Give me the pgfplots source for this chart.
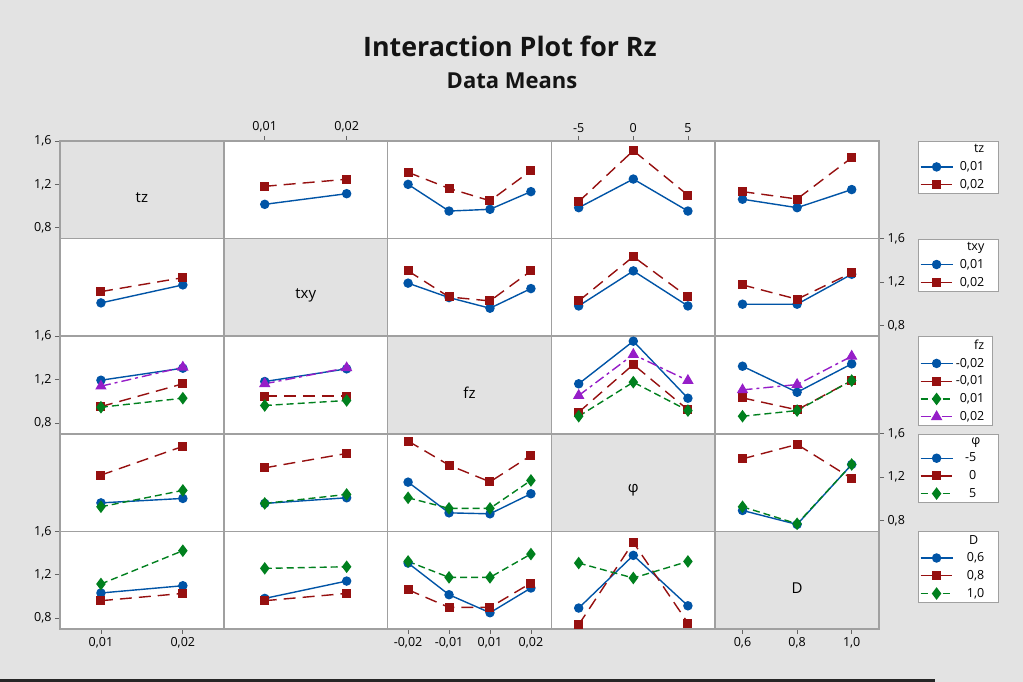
\documentclass[border=0pt]{standalone}
\usepackage{fontspec}
\setmainfont{Open Sans}
\usepackage{pgfplots}
\pgfplotsset{compat=1.18}
\definecolor{bg}{RGB}{227,227,227}
\definecolor{diagcol}{RGB}{226,226,226}
\definecolor{gridgray}{RGB}{160,160,160}
\definecolor{tickgray}{RGB}{100,100,100}
\definecolor{cBlue}{RGB}{0,84,166}
\definecolor{cRed}{RGB}{150,16,16}
\definecolor{cGreen}{RGB}{0,128,30}
\definecolor{cPurple}{RGB}{150,30,200}
\definecolor{titlecol}{RGB}{20,20,20}
\newcommand\tickfont{\fontsize{12.5}{14}\selectfont}
\newcommand\labfont{\fontsize{15}{18}\selectfont}
\newcommand\legfont{\fontsize{12.5}{14}\selectfont}
\pgfplotsset{
 sBlue/.style={color=cBlue, line width=1.4pt, solid, mark=*, mark size=4pt, mark options={solid}},
 sRed/.style={color=cRed, line width=1.4pt, dash pattern=on 12pt off 7pt, mark=square*, mark size=3.8pt, mark options={solid}},
 sGreen/.style={color=cGreen, line width=1.4pt, dash pattern=on 7pt off 4pt, mark=diamond*, mark size=5.2pt, mark options={solid}},
 sPurple/.style={color=cPurple, line width=1.4pt, dash pattern=on 10pt off 4pt on 3pt off 4pt, mark=triangle*, mark size=5.2pt, mark options={solid}},
 panel/.style={scale only axis, width=163.8pt, height=97.6pt, anchor=north west,
   ymin=0.7, ymax=1.6, xtick=\empty, ytick=\empty, clip=false,
   scaled x ticks=false, scaled y ticks=false,
   axis line style={draw=gridgray, line width=1.6pt},
   axis background/.style={fill=white},
   tick align=outside, major tick length=5pt,
   tick style={draw=tickgray, line width=0.8pt},
   ticklabel style={font=\tickfont, text=black}},
 diag/.style={panel, axis background/.style={fill=diagcol}},
 colA/.style={xmin=0.005, xmax=0.025},
 colF/.style={xmin=-0.5, xmax=3.5},
 colP/.style={xmin=-7.5, xmax=7.5},
 colD/.style={xmin=0.5, xmax=1.1},
 yleft/.style={ytick={0.8,1.2,1.6}, yticklabels={{0,8},{1,2},{1,6}}, ytick pos=left, yticklabel pos=left},
 yright/.style={ytick={0.8,1.2,1.6}, yticklabels={{0,8},{1,2},{1,6}}, ytick pos=right, yticklabel pos=right},
 leg/.style={legend style={at={(1,1)}, anchor=north west, xshift=38.7pt, draw=gridgray, fill=white,
   font=\legfont, inner xsep=2pt, inner ysep=1.5pt, row sep=3.2pt, column sep=3pt, cells={anchor=east}},
   legend image code/.code={\draw[mark repeat=2,mark phase=2] plot coordinates {(0pt,0pt) (16pt,0pt) (32pt,0pt)};}},
}
\newcommand\lt[1]{\makebox[26pt][r]{#1}\hspace*{10pt}}
\begin{document}
\begin{tikzpicture}
\fill[bg] (0pt,0pt) rectangle (1023pt,682pt);
\fill[black!85] (0pt,0pt) rectangle (935pt,2.5pt);
\node[font=\fontsize{26.8}{30}\selectfont\bfseries, text=titlecol] at (510pt,636pt) {Interaction Plot for Rz};
\node[font=\fontsize{22}{25}\selectfont\bfseries, text=titlecol] at (512pt,601pt) {Data Means};
% ---------------- Row 1 (tz) ----------------
\begin{axis}[diag, colA, yleft, at={(60pt,541pt)}]
\node[font=\labfont] at (rel axis cs:0.5,0.42) {tz};
\end{axis}
\begin{axis}[panel, colA, at={(223.8pt,541pt)}, xtick={0.01,0.02}, xticklabels={{0,01},{0,02}}, xtick pos=right, xticklabel pos=right]
\addplot[sBlue] coordinates {(0.01,1.016)(0.02,1.114)};
\addplot[sRed] coordinates {(0.01,1.182)(0.02,1.247)};
\end{axis}
\begin{axis}[panel, colF, at={(387.6pt,541pt)}]
\addplot[sBlue] coordinates {(0,1.200)(1,0.954)(2,0.970)(3,1.133)};
\addplot[sRed] coordinates {(0,1.311)(1,1.163)(2,1.049)(3,1.326)};
\end{axis}
\begin{axis}[panel, colP, at={(551.4pt,541pt)}, xtick={-5,0,5}, xticklabels={-5,0,5}, xtick pos=right, xticklabel pos=right]
\addplot[sBlue] coordinates {(-5,0.985)(0,1.249)(5,0.954)};
\addplot[sRed] coordinates {(-5,1.041)(0,1.511)(5,1.100)};
\end{axis}
\begin{axis}[panel, colD, leg, at={(715.2pt,541pt)}]
\addplot[sBlue, forget plot] coordinates {(0.6,1.063)(0.8,0.985)(1.0,1.152)};
\addplot[sRed, forget plot] coordinates {(0.6,1.133)(0.8,1.065)(1.0,1.446)};
\addlegendimage{empty legend}\addlegendentry{\lt{tz}}
\addlegendimage{sBlue}\addlegendentry{\lt{0,01}}
\addlegendimage{sRed}\addlegendentry{\lt{0,02}}
\end{axis}
% ---------------- Row 2 (txy) ----------------
\begin{axis}[panel, colA, at={(60pt,443.4pt)}]
\addplot[sBlue] coordinates {(0.01,1.007)(0.02,1.173)};
\addplot[sRed] coordinates {(0.01,1.111)(0.02,1.240)};
\end{axis}
\begin{axis}[diag, colA, at={(223.8pt,443.4pt)}]
\node[font=\labfont] at (rel axis cs:0.5,0.42) {txy};
\end{axis}
\begin{axis}[panel, colF, at={(387.6pt,443.4pt)}]
\addplot[sBlue] coordinates {(0,1.189)(1,1.056)(2,0.958)(3,1.139)};
\addplot[sRed] coordinates {(0,1.302)(1,1.062)(2,1.025)(3,1.302)};
\end{axis}
\begin{axis}[panel, colP, at={(551.4pt,443.4pt)}]
\addplot[sBlue] coordinates {(-5,0.979)(0,1.302)(5,0.979)};
\addplot[sRed] coordinates {(-5,1.025)(0,1.434)(5,1.062)};
\end{axis}
\begin{axis}[panel, colD, yright, leg, at={(715.2pt,443.4pt)}]
\addplot[sBlue, forget plot] coordinates {(0.6,0.995)(0.8,0.995)(1.0,1.271)};
\addplot[sRed, forget plot] coordinates {(0.6,1.173)(0.8,1.041)(1.0,1.284)};
\addlegendimage{empty legend}\addlegendentry{\lt{txy}}
\addlegendimage{sBlue}\addlegendentry{\lt{0,01}}
\addlegendimage{sRed}\addlegendentry{\lt{0,02}}
\end{axis}
% ---------------- Row 3 (fz) ----------------
\begin{axis}[panel, colA, yleft, at={(60pt,345.8pt)}]
\addplot[sBlue] coordinates {(0.01,1.194)(0.02,1.305)};
\addplot[sRed] coordinates {(0.01,0.951)(0.02,1.161)};
\addplot[sGreen] coordinates {(0.01,0.945)(0.02,1.028)};
\addplot[sPurple] coordinates {(0.01,1.139)(0.02,1.314)};
\end{axis}
\begin{axis}[panel, colA, at={(223.8pt,345.8pt)}]
\addplot[sBlue] coordinates {(0.01,1.182)(0.02,1.299)};
\addplot[sRed] coordinates {(0.01,1.047)(0.02,1.047)};
\addplot[sGreen] coordinates {(0.01,0.961)(0.02,1.007)};
\addplot[sPurple] coordinates {(0.01,1.161)(0.02,1.308)};
\end{axis}
\begin{axis}[diag, colF, at={(387.6pt,345.8pt)}]
\node[font=\labfont] at (rel axis cs:0.5,0.42) {fz};
\end{axis}
\begin{axis}[panel, colP, at={(551.4pt,345.8pt)}]
\addplot[sBlue] coordinates {(-5,1.161)(0,1.554)(5,1.028)};
\addplot[sRed] coordinates {(-5,0.899)(0,1.339)(5,0.921)};
\addplot[sGreen] coordinates {(-5,0.862)(0,1.176)(5,0.914)};
\addplot[sPurple] coordinates {(-5,1.053)(0,1.431)(5,1.191)};
\end{axis}
\begin{axis}[panel, colD, leg, at={(715.2pt,345.8pt)}]
\addplot[sBlue, forget plot] coordinates {(0.6,1.323)(0.8,1.083)(1.0,1.345)};
\addplot[sRed, forget plot] coordinates {(0.6,1.031)(0.8,0.921)(1.0,1.191)};
\addplot[sGreen, forget plot] coordinates {(0.6,0.862)(0.8,0.914)(1.0,1.191)};
\addplot[sPurple, forget plot] coordinates {(0.6,1.105)(0.8,1.154)(1.0,1.415)};
\addlegendimage{empty legend}\addlegendentry{\makebox[26pt][r]{fz}\hspace*{4pt}}
\addlegendimage{sBlue}\addlegendentry{\makebox[26pt][r]{-0,02}\hspace*{4pt}}
\addlegendimage{sRed}\addlegendentry{\makebox[26pt][r]{-0,01}\hspace*{4pt}}
\addlegendimage{sGreen}\addlegendentry{\makebox[26pt][r]{0,01}\hspace*{4pt}}
\addlegendimage{sPurple}\addlegendentry{\makebox[26pt][r]{0,02}\hspace*{4pt}}
\end{axis}
% ---------------- Row 4 (phi) ----------------
\begin{axis}[panel, colA, at={(60pt,248.2pt)}]
\addplot[sBlue] coordinates {(0.01,0.963)(0.02,1.004)};
\addplot[sRed] coordinates {(0.01,1.219)(0.02,1.484)};
\addplot[sGreen] coordinates {(0.01,0.927)(0.02,1.078)};
\end{axis}
\begin{axis}[panel, colA, at={(223.8pt,248.2pt)}]
\addplot[sBlue] coordinates {(0.01,0.958)(0.02,1.010)};
\addplot[sRed] coordinates {(0.01,1.286)(0.02,1.419)};
\addplot[sGreen] coordinates {(0.01,0.958)(0.02,1.041)};
\end{axis}
\begin{axis}[panel, colF, at={(387.6pt,248.2pt)}]
\addplot[sBlue] coordinates {(0,1.154)(1,0.871)(2,0.862)(3,1.047)};
\addplot[sRed] coordinates {(0,1.533)(1,1.311)(2,1.157)(3,1.400)};
\addplot[sGreen] coordinates {(0,1.010)(1,0.912)(2,0.912)(3,1.170)};
\end{axis}
\begin{axis}[diag, colP, at={(551.4pt,248.2pt)}]
\node[font=\labfont] at (rel axis cs:0.5,0.42) {φ};
\end{axis}
\begin{axis}[panel, colD, yright, leg, at={(715.2pt,248.2pt)}]
\addplot[sBlue, forget plot] coordinates {(0.6,0.893)(0.8,0.764)(1.0,1.317)};
\addplot[sRed, forget plot] coordinates {(0.6,1.369)(0.8,1.502)(1.0,1.188)};
\addplot[sGreen, forget plot] coordinates {(0.6,0.927)(0.8,0.770)(1.0,1.317)};
\addlegendimage{empty legend}\addlegendentry{\lt{φ\hspace*{4pt}}}
\addlegendimage{sBlue}\addlegendentry{\lt{-5\hspace*{8pt}}}
\addlegendimage{sRed}\addlegendentry{\lt{0\hspace*{8pt}}}
\addlegendimage{sGreen}\addlegendentry{\lt{5\hspace*{8pt}}}
\end{axis}
% ---------------- Row 5 (D) ----------------
\begin{axis}[panel, colA, yleft, at={(60pt,150.6pt)}, xtick={0.01,0.02}, xticklabels={{0,01},{0,02}}, xtick pos=left, xticklabel pos=left]
\addplot[sBlue] coordinates {(0.01,1.032)(0.02,1.099)};
\addplot[sRed] coordinates {(0.01,0.961)(0.02,1.028)};
\addplot[sGreen] coordinates {(0.01,1.115)(0.02,1.422)};
\end{axis}
\begin{axis}[panel, colA, at={(223.8pt,150.6pt)}]
\addplot[sBlue] coordinates {(0.01,0.982)(0.02,1.142)};
\addplot[sRed] coordinates {(0.01,0.961)(0.02,1.028)};
\addplot[sGreen] coordinates {(0.01,1.259)(0.02,1.274)};
\end{axis}
\begin{axis}[panel, colF, at={(387.6pt,150.6pt)}, xtick={0,1,2,3}, xticklabels={{-0,02},{-0,01},{0,01},{0,02}}, xtick pos=left, xticklabel pos=left]
\addplot[sBlue] coordinates {(0,1.308)(1,1.016)(2,0.850)(3,1.078)};
\addplot[sRed] coordinates {(0,1.062)(1,0.899)(2,0.899)(3,1.124)};
\addplot[sGreen] coordinates {(0,1.323)(1,1.176)(2,1.176)(3,1.391)};
\end{axis}
\begin{axis}[panel, colP, at={(551.4pt,150.6pt)}]
\addplot[sBlue] coordinates {(-5,0.893)(0,1.379)(5,0.914)};
\addplot[sRed] coordinates {(-5,0.740)(0,1.499)(5,0.755)};
\addplot[sGreen] coordinates {(-5,1.308)(0,1.170)(5,1.323)};
\end{axis}
\begin{axis}[diag, colD, leg, at={(715.2pt,150.6pt)}, xtick={0.6,0.8,1.0}, xticklabels={{0,6},{0,8},{1,0}}, xtick pos=left, xticklabel pos=left]
\node[font=\labfont] at (rel axis cs:0.5,0.42) {D};
\addlegendimage{empty legend}\addlegendentry{\lt{D\hspace*{6pt}}}
\addlegendimage{sBlue}\addlegendentry{\lt{0,6}}
\addlegendimage{sRed}\addlegendentry{\lt{0,8}}
\addlegendimage{sGreen}\addlegendentry{\lt{1,0}}
\end{axis}
\end{tikzpicture}
\end{document}
